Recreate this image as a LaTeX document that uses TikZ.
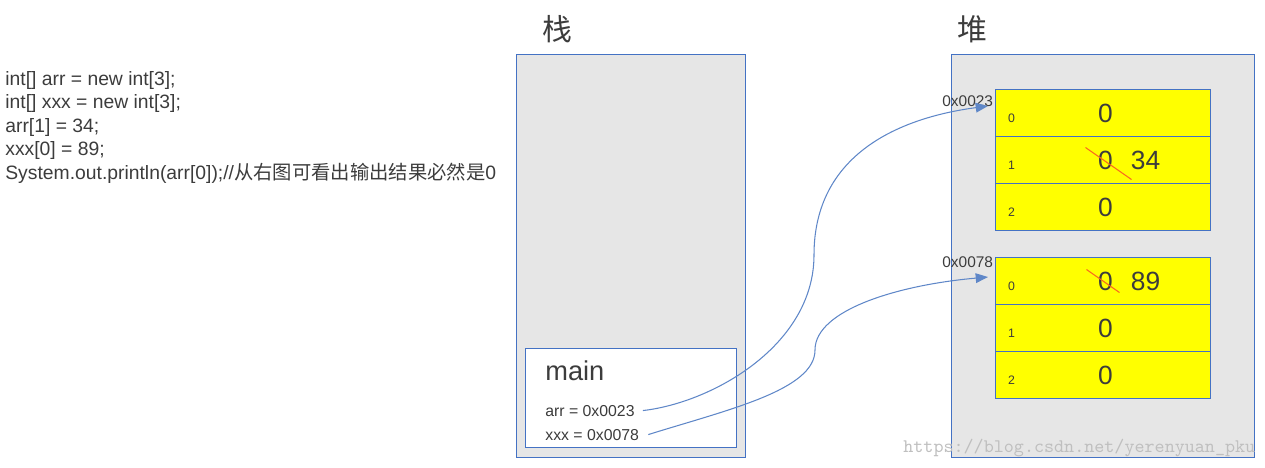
\documentclass[tikz,border=0pt]{standalone}
\usepackage{fontspec}
\setmainfont{Liberation Sans}
\newfontfamily\cjk{Noto Sans CJK SC}
\usetikzlibrary{arrows.meta,calc}
\definecolor{boxblue}{RGB}{68,114,196}
\definecolor{linkblue}{RGB}{95,135,200}
\definecolor{framegray}{RGB}{230,230,230}
\definecolor{cellyellow}{RGB}{255,255,0}
\definecolor{strikered}{RGB}{250,105,30}
\definecolor{textgray}{RGB}{60,60,60}
\tikzstyle{every node}=[text=textgray,inner sep=0pt]
\tikzstyle{code}=[anchor=base west,
                  font=\fontsize{11}{13}\selectfont]
\tikzstyle{frame}=[anchor=north west,
                   draw=boxblue,
                   line width=.6pt,
                   fill=framegray]
\tikzstyle{cell}=[draw=boxblue,
                  line width=.6pt,
                  fill=cellyellow,
                  minimum width=4.3cm,
                  minimum height=.94cm]
\tikzstyle{title}=[font=\cjk\fontsize{17}{20}\selectfont]
\tikzstyle{var}=[anchor=base west,font=\fontsize{9}{11}\selectfont]
\tikzstyle{addr}=[anchor=base west,font=\fontsize{8.8}{10}\selectfont]
\tikzstyle{value}=[font=\fontsize{15}{18}\selectfont]
\tikzstyle{index}=[font=\fontsize{7}{8}\selectfont]
\tikzstyle{strike}=[draw=strikered,line width=.6pt]
\tikzstyle{link}=[draw=linkblue,line width=.6pt]

\begin{document}
\begin{tikzpicture}[x=0.02cm,y=-0.02cm,>={Triangle[length=7pt,width=5.5pt]}]
\useasboundingbox (0,0) rectangle (1265,467);
% code on the left
\node (line1) [code] at (5,85) {int[] arr = new int[3];};
\node (line2) [code] at (5,108.5) {int[] xxx = new int[3];};
\node (line3) [code] at (5,132) {arr[1] = 34;};
\node (line4) [code] at (5,155.5) {xxx[0] = 89;};
\node (line5) [code] at (5,179) {System.out.println(arr[0]);//{\cjk 从右图可看出输出结果必然是}0};

% stack
\node (stacktitle) [title] at (557,29) {栈};
\node (stack) [frame,minimum width=4.58cm,minimum height=8.06cm] at (516,54) {};
\node (mainframe) [frame,fill=white,minimum width=4.22cm,minimum height=1.98cm] at (525,348) {};
\node (mainname) [anchor=base west,font=\fontsize{15.5}{18}\selectfont] at (545,380) {main};
\node (arrval) [var] at (545,416) {arr = 0x0023};
\node (xxxval) [var] at (545,440) {xxx = 0x0078};

% heap
\node (heaptitle) [title] at (972,29) {堆};
\node (heap) [frame,minimum width=6.06cm,minimum height=8.06cm] at (951,54) {};

\node (arr0) [cell,anchor=north west] at (995,89) {};
\node (arr1) [cell,below of=arr0,node distance=.94cm] {};
\node (arr2) [cell,below of=arr1,node distance=.94cm] {};
\node (xxx0) [cell,anchor=north west] at (995,257) {};
\node (xxx1) [cell,below of=xxx0,node distance=.94cm] {};
\node (xxx2) [cell,below of=xxx1,node distance=.94cm] {};

\node (arraddr) [addr] at (942,106) {0x0023};
\node (xxxaddr) [addr] at (942,267) {0x0078};

% indices and values
\node [index] at ($(arr0.west)+(16.5,5)$) {0};
\node [index] at ($(arr1.west)+(16.5,5)$) {1};
\node [index] at ($(arr2.west)+(16.5,5)$) {2};
\node [index] at ($(xxx0.west)+(16.5,5)$) {0};
\node [index] at ($(xxx1.west)+(16.5,5)$) {1};
\node [index] at ($(xxx2.west)+(16.5,5)$) {2};

\node (arr0val) [value] at ($(arr0.center)+(2.5,0)$) {0};
\node (arr1old) [value] at ($(arr1.center)+(2.5,0)$) {0};
\node (arr1new) [value] at ($(arr1.center)+(42.5,0)$) {34};
\node (arr2val) [value] at ($(arr2.center)+(2.5,0)$) {0};
\node (xxx0old) [value] at ($(xxx0.center)+(2.5,0)$) {0};
\node (xxx0new) [value] at ($(xxx0.center)+(42.5,0)$) {89};
\node (xxx1val) [value] at ($(xxx1.center)+(2.5,0)$) {0};
\node (xxx2val) [value] at ($(xxx2.center)+(2.5,0)$) {0};

\draw[strike] ($(arr1.center)+(-17.5,-12.5)$) -- ($(arr1.center)+(28.5,19.5)$);
\draw[strike] ($(xxx0.center)+(-16.5,-11.5)$) -- ($(xxx0.center)+(16.5,11.5)$);

% references from the stack into the heap
\coordinate (arrbend) at (814,255);
\coordinate (xxxbend) at (815,350);
\coordinate (arrhead) at ($(arr0.west)+(-7,-7)$);
\coordinate (xxxhead) at ($(xxx0.west)+(-7,-4)$);
\draw[link,->] ([xshift=.16cm]arrval.east) .. controls +(70,-8) and +(0,90) .. (arrbend)
  .. controls +(0,-100) and +(-90,12) .. (arrhead);
\draw[link,->] ([xshift=.18cm]xxxval.east) .. controls +(80,-25) and +(0,40) .. (xxxbend)
  .. controls +(0,-40) and +(-90,8) .. (xxxhead);

\node (mark) [anchor=base west,text=black!25,font=\ttfamily\fontsize{10.9}{12}\selectfont] at (903,452) {https://blog.csdn.net/yerenyuan\_pku};
\end{tikzpicture}
\end{document}
